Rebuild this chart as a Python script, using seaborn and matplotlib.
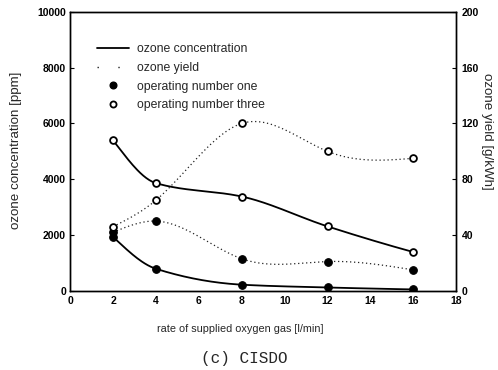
import numpy as np
import pandas as pd
import matplotlib
matplotlib.use("Agg")
import matplotlib.pyplot as plt
from matplotlib.lines import Line2D
import seaborn as sns

# ---- data ----
flow = [2, 4, 8, 12, 16]                      # rate of supplied oxygen gas [l/min]
conc_one = [1930, 790, 220, 120, 50]          # ozone concentration [ppm], operating number one
conc_three = [5390, 3860, 3380, 2310, 1390]   # ozone concentration [ppm], operating number three
yield_one = [42, 50, 23, 21, 15]              # ozone yield [g/kWh], operating number one
yield_three = [46, 65, 120, 100, 95]          # ozone yield [g/kWh], operating number three

x_ticks = [0, 2, 4, 6, 8, 10, 12, 14, 16, 18]
left_ticks = [0, 2000, 4000, 6000, 8000, 10000]
right_ticks = [0, 40, 80, 120, 160, 200]


def natural_spline(x, y, n=200):
    """Natural cubic spline through the measured points (for drawing the curve)."""
    x = np.asarray(x, float)
    y = np.asarray(y, float)
    k = len(x)
    h = np.diff(x)
    A = np.zeros((k, k))
    b = np.zeros(k)
    A[0, 0] = A[-1, -1] = 1
    for i in range(1, k - 1):
        A[i, i - 1] = h[i - 1]
        A[i, i] = 2 * (h[i - 1] + h[i])
        A[i, i + 1] = h[i]
        b[i] = 6 * ((y[i + 1] - y[i]) / h[i] - (y[i] - y[i - 1]) / h[i - 1])
    M = np.linalg.solve(A, b)
    xs = np.linspace(x[0], x[-1], n)
    idx = np.clip(np.searchsorted(x, xs) - 1, 0, k - 2)
    x0, x1 = x[idx], x[idx + 1]
    hh = x1 - x0
    ys = (M[idx] * (x1 - xs) ** 3 / (6 * hh) + M[idx + 1] * (xs - x0) ** 3 / (6 * hh)
          + (y[idx] / hh - M[idx] * hh / 6) * (x1 - xs)
          + (y[idx + 1] / hh - M[idx + 1] * hh / 6) * (xs - x0))
    return pd.DataFrame({"x": xs, "y": ys})


def pchip(x, y, n=200):
    """Shape-preserving cubic (PCHIP) curve through the measured points."""
    x = np.asarray(x, float)
    y = np.asarray(y, float)
    h = np.diff(x)
    delta = np.diff(y) / h
    k = len(x)
    d = np.zeros(k)
    for i in range(1, k - 1):
        if delta[i - 1] * delta[i] > 0:
            w1 = 2 * h[i] + h[i - 1]
            w2 = h[i] + 2 * h[i - 1]
            d[i] = (w1 + w2) / (w1 / delta[i - 1] + w2 / delta[i])
    def end(h0, h1, d0, d1):
        v = ((2 * h0 + h1) * d0 - h0 * d1) / (h0 + h1)
        if np.sign(v) != np.sign(d0):
            v = 0.0
        elif np.sign(d0) != np.sign(d1) and abs(v) > abs(3 * d0):
            v = 3 * d0
        return v
    d[0] = end(h[0], h[1], delta[0], delta[1])
    d[-1] = end(h[-1], h[-2], delta[-1], delta[-2])
    xs = np.linspace(x[0], x[-1], n)
    idx = np.clip(np.searchsorted(x, xs) - 1, 0, k - 2)
    t = (xs - x[idx]) / h[idx]
    h00 = 2 * t**3 - 3 * t**2 + 1
    h10 = t**3 - 2 * t**2 + t
    h01 = -2 * t**3 + 3 * t**2
    h11 = t**3 - t**2
    ys = h00 * y[idx] + h10 * h[idx] * d[idx] + h01 * y[idx + 1] + h11 * h[idx] * d[idx + 1]
    return pd.DataFrame({"x": xs, "y": ys})


sns.set_style("white")
plt.rcParams["font.family"] = ["Liberation Sans", "DejaVu Sans"]

fig = plt.figure(figsize=(4.98, 3.70), dpi=100)
ax = fig.add_axes([0.141, 0.214, 0.775, 0.754])
ax2 = ax.twinx()

solid = dict(color="black", linewidth=1.3, linestyle="-")
dotted = dict(color="#222222", linewidth=0.9, linestyle=(0, (1, 2.2)))

sns.lineplot(data=pchip(flow, conc_three), x="x", y="y", ax=ax, **solid)
sns.lineplot(data=pchip(flow, conc_one), x="x", y="y", ax=ax, **solid)
sns.lineplot(data=natural_spline(flow, yield_three), x="x", y="y", ax=ax2, **dotted)
sns.lineplot(data=natural_spline(flow, yield_one), x="x", y="y", ax=ax2, **dotted)

filled = dict(marker="o", s=30, color="black", edgecolor="black", linewidth=0.8, zorder=5)
hollow = dict(marker="o", s=24, facecolor="white", edgecolor="black", linewidth=1.3, zorder=5)
sns.scatterplot(x=flow, y=conc_one, ax=ax, **filled)
sns.scatterplot(x=flow, y=conc_three, ax=ax, **hollow)
sns.scatterplot(x=flow, y=yield_one, ax=ax2, **filled)
sns.scatterplot(x=flow, y=yield_three, ax=ax2, **hollow)

ax.set_xlim(0, 18)
ax.set_ylim(0, 10000)
ax2.set_ylim(0, 200)
ax.set_xticks(x_ticks)
ax.set_yticks(left_ticks)
ax2.set_yticks(right_ticks)

tick_font = dict(fontsize=7.5, fontweight="bold")
ax.set_xticklabels([str(t) for t in x_ticks], **tick_font)
ax.set_yticklabels([str(t) for t in left_ticks], **tick_font)
ax2.set_yticklabels([str(t) for t in right_ticks], **tick_font)

ax.tick_params(axis="both", direction="in", length=3, width=0.8, pad=3, colors="black")
ax.tick_params(axis="x", pad=4)
ax2.tick_params(axis="y", direction="in", length=3, width=0.8, pad=4, colors="black")

for a in (ax, ax2):
    for sp in a.spines.values():
        sp.set_visible(True)
        sp.set_color("black")
        sp.set_linewidth(1.0)

ax.set_xlabel("rate of supplied oxygen gas [l/min]", fontsize=7.8)
ax.xaxis.set_label_coords(0.44, -0.12)
ax.set_ylabel("ozone concentration [ppm]", fontsize=9.6)
ax.yaxis.set_label_coords(-0.125, 0.505)
ax2.set_ylabel("ozone yield [g/kWh]", fontsize=9.6, rotation=-90, va="center")
ax2.yaxis.set_label_coords(1.08, 0.573)

handles = [
    Line2D([], [], **solid),
    Line2D([], [], color="#222222", linewidth=1.0, linestyle=(0, (1, 14))),
    Line2D([], [], marker="o", linestyle="none", color="black", markersize=4.8),
    Line2D([], [], marker="o", linestyle="none", markerfacecolor="white",
           markeredgecolor="black", markeredgewidth=1.3, markersize=4.4),
]
labels = ["ozone concentration", "ozone yield", "operating number one", "operating number three"]
ax2.legend(handles, labels, loc="upper left", bbox_to_anchor=(0.069, 0.888), frameon=False,
           fontsize=8.8, handlelength=2.6, handletextpad=0.72, labelspacing=0.55,
           borderaxespad=0, borderpad=0)

fig.text(0.49, 0.032, "(c) CISDO", fontsize=11.5, ha="center", va="center",
         family=["Liberation Mono", "DejaVu Sans Mono"])

fig.savefig("out.png", dpi=100)
